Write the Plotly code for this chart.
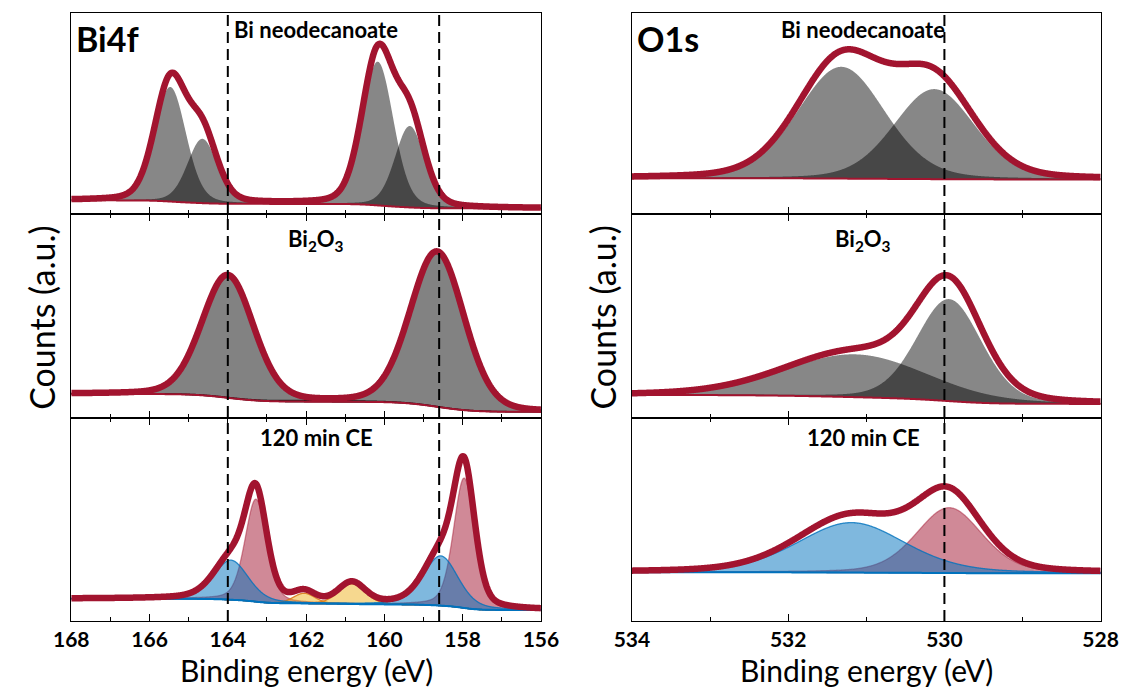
import numpy as np
import plotly.graph_objects as go

# ---------------------------------------------------------------
# Energy windows (eV) and reference positions (dashed lines)
# ---------------------------------------------------------------
BI4F_RANGE = [168, 156]
O1S_RANGE = [534, 528]
BI4F_REF = [164.0, 158.6]
O1S_REF = [530.0]

SAMPLE_LABELS = ["Bi neodecanoate", "Bi<sub>2</sub>O<sub>3</sub>", "120 min CE"]
CORE_LEVELS = ["Bi4f", "O1s"]

# ---------------------------------------------------------------
# Fitted components: centre (eV), height (a.u.), FWHM (eV),
# Lorentzian fraction, component family
# Background: Shirley end points [high-BE end, low-BE end]
# Envelope gain: measured spectrum relative to summed fit
# ---------------------------------------------------------------
# Bi4f - Bi neodecanoate
bi4f_neo_center = [165.47, 164.65, 160.17, 159.35]
bi4f_neo_height = [0.570, 0.320, 0.715, 0.405]
bi4f_neo_fwhm = [0.95, 0.90, 0.95, 0.90]
bi4f_neo_lor = [0.2, 0.2, 0.2, 0.2]
bi4f_neo_kind = ["gray", "gray", "gray", "gray"]
bi4f_neo_bg = [0.068, 0.028]
bi4f_neo_gain = 1.04

# Bi4f - Bi2O3
bi4f_ox_center = [164.00, 158.65]
bi4f_ox_height = [0.600, 0.760]
bi4f_ox_fwhm = [1.55, 1.62]
bi4f_ox_lor = [0.15, 0.15]
bi4f_ox_kind = ["gray_edge", "gray_edge"]
bi4f_ox_bg = [0.118, 0.030]
bi4f_ox_gain = 1.0

# Bi4f - 120 min CE
bi4f_ce_center = [163.28, 157.96, 162.05, 160.83, 163.92, 158.56]
bi4f_ce_height = [0.505, 0.640, 0.050, 0.100, 0.195, 0.245]
bi4f_ce_fwhm = [0.66, 0.64, 0.65, 0.80, 1.05, 1.05]
bi4f_ce_lor = [0.3, 0.3, 0.2, 0.2, 0.35, 0.35]
bi4f_ce_kind = ["pink", "pink", "yellow", "yellow", "blue", "blue"]
bi4f_ce_bg = [0.110, 0.054]
bi4f_ce_gain = 1.0

# O1s - Bi neodecanoate
o1s_neo_center = [531.32, 530.13]
o1s_neo_height = [0.556, 0.448]
o1s_neo_fwhm = [1.32, 1.22]
o1s_neo_lor = [0.2, 0.2]
o1s_neo_kind = ["gray", "gray"]
o1s_neo_bg = [0.178, 0.172]
o1s_neo_gain = 1.06

# O1s - Bi2O3
o1s_ox_center = [531.14, 529.94]
o1s_ox_height = [0.210, 0.500]
o1s_ox_fwhm = [2.16, 0.98]
o1s_ox_lor = [0.2, 0.2]
o1s_ox_kind = ["gray", "gray"]
o1s_ox_bg = [0.113, 0.069]
o1s_ox_gain = 1.04

# O1s - 120 min CE
o1s_ce_center = [529.94, 531.19]
o1s_ce_height = [0.322, 0.246]
o1s_ce_fwhm = [1.00, 1.63]
o1s_ce_lor = [0.3, 0.3]
o1s_ce_kind = ["pink", "blue"]
o1s_ce_bg = [0.240, 0.235]
o1s_ce_gain = 1.12

# ---------------------------------------------------------------
# Styles
# ---------------------------------------------------------------
RED = "rgb(162,20,47)"
FILL = {
    "gray": "rgba(0,0,0,0.47)",
    "gray_edge": "rgba(0,0,0,0.49)",
    "pink": "rgba(162,20,47,0.5)",
    "blue": "rgba(0,114,189,0.5)",
    "yellow": "rgba(237,177,32,0.5)",
}
EDGE = {
    "gray": None,
    "gray_edge": "rgba(20,20,20,0.85)",
    "pink": "rgba(162,20,47,0.45)",
    "blue": "rgba(0,114,189,0.8)",
    "yellow": "rgba(217,120,25,0.9)",
}
DRAW_ORDER = ["gray", "gray_edge", "pink", "yellow", "blue"]
FONT = "Lato"

# Plot frame in paper fractions
X_DOM = [[0.04833, 0.47452], [0.55712, 0.98243]]
Y_DOM = [[0.68940, 0.98113], [0.39332, 0.68940], [0.09869, 0.39332]]


def pseudo_voigt(E, c, h, w, m):
    u = (E - c) / w
    return h * ((1 - m) * np.exp(-4 * np.log(2) * u ** 2) + m / (1 + 4 * u ** 2))


def shirley(E, signal, hi, lo):
    # E runs from high to low binding energy
    tail = np.cumsum(signal[::-1])[::-1]
    return lo + (hi - lo) * tail / tail[0]


panels = [
    # (column, row, energy range, centres, heights, fwhm, lor, kinds, bg, gain, bg colour)
    (0, 0, BI4F_RANGE, bi4f_neo_center, bi4f_neo_height, bi4f_neo_fwhm, bi4f_neo_lor, bi4f_neo_kind, bi4f_neo_bg, bi4f_neo_gain, RED),
    (0, 1, BI4F_RANGE, bi4f_ox_center, bi4f_ox_height, bi4f_ox_fwhm, bi4f_ox_lor, bi4f_ox_kind, bi4f_ox_bg, bi4f_ox_gain, RED),
    (0, 2, BI4F_RANGE, bi4f_ce_center, bi4f_ce_height, bi4f_ce_fwhm, bi4f_ce_lor, bi4f_ce_kind, bi4f_ce_bg, bi4f_ce_gain, "rgb(0,114,189)"),
    (1, 0, O1S_RANGE, o1s_neo_center, o1s_neo_height, o1s_neo_fwhm, o1s_neo_lor, o1s_neo_kind, o1s_neo_bg, o1s_neo_gain, RED),
    (1, 1, O1S_RANGE, o1s_ox_center, o1s_ox_height, o1s_ox_fwhm, o1s_ox_lor, o1s_ox_kind, o1s_ox_bg, o1s_ox_gain, RED),
    (1, 2, O1S_RANGE, o1s_ce_center, o1s_ce_height, o1s_ce_fwhm, o1s_ce_lor, o1s_ce_kind, o1s_ce_bg, o1s_ce_gain, "rgb(0,114,189)"),
]

fig = go.Figure()
layout_axes = {}

for idx, (col, row, rng, cen, hgt, fw, lor, kinds, bgp, gain, bgcol) in enumerate(panels):
    n = idx + 1
    xa = "x" if n == 1 else f"x{n}"
    ya = "y" if n == 1 else f"y{n}"
    E = np.linspace(rng[0], rng[1], 1501)
    comps = [pseudo_voigt(E, c, h, w, m) for c, h, w, m in zip(cen, hgt, fw, lor)]
    total = np.sum(comps, axis=0)
    bg = shirley(E, total, bgp[0], bgp[1])
    envelope = bg + gain * total

    order = sorted(range(len(comps)), key=lambda i: DRAW_ORDER.index(kinds[i]))
    for i in order:
        k = kinds[i]
        edge = EDGE[k]
        fig.add_trace(go.Scatter(
            x=np.concatenate([E, E[::-1]]),
            y=np.concatenate([bg + comps[i], bg[::-1]]),
            fill="toself", fillcolor=FILL[k], mode="lines",
            line=dict(color=edge if edge else "rgba(0,0,0,0)", width=1.3 if edge else 0, simplify=False),
            xaxis=xa, yaxis=ya, hoverinfo="skip", showlegend=False,
        ))
    fig.add_trace(go.Scatter(x=E, y=bg, mode="lines", line=dict(color=bgcol, width=2, simplify=False),
                             xaxis=xa, yaxis=ya, hoverinfo="skip", showlegend=False))
    fig.add_trace(go.Scatter(x=E, y=envelope, mode="lines",
                             line=dict(color=RED, width=6.5, simplify=False),
                             xaxis=xa, yaxis=ya, showlegend=False))

    bottom = row == 2
    layout_axes["xaxis" if n == 1 else f"xaxis{n}"] = dict(
        domain=X_DOM[col], range=rng, anchor=ya,
        showline=True, linecolor="black", linewidth=1.2,
        mirror=True if row == 0 else "allticks",
        ticks="inside", ticklen=7, tickwidth=1.4, tickcolor="black",
        tick0=rng[1], dtick=2,
        minor=dict(dtick=1, ticks="inside", ticklen=4, tickwidth=1.2, tickcolor="black", showgrid=False),
        showticklabels=bottom,
        tickfont=dict(family=FONT, size=21, color="black", weight="bold"),
        showgrid=False, zeroline=False,
    )
    layout_axes["yaxis" if n == 1 else f"yaxis{n}"] = dict(
        domain=Y_DOM[row], range=[0, 1], anchor=xa,
        showline=True, linecolor="black", linewidth=1.2, mirror=True,
        ticks="", showticklabels=False, showgrid=False, zeroline=False,
    )

# Dashed reference lines through each column
shapes = []
for col, refs in enumerate([BI4F_REF, O1S_REF]):
    xref = "x" if col == 0 else "x4"
    for e in refs:
        shapes.append(dict(type="line", xref=xref, yref="paper", x0=e, x1=e,
                           y0=Y_DOM[2][0], y1=Y_DOM[0][1],
                           line=dict(color="black", width=2, dash="11px,6px"), layer="above"))

annotations = []
label_x = [0.2707, 0.7670]
label_y = [0.9579, 0.6520, 0.3643]
for col in range(2):
    for row in range(3):
        annotations.append(dict(text=SAMPLE_LABELS[row], x=label_x[col], y=label_y[row],
                                xref="paper", yref="paper", showarrow=False,
                                xanchor="center", yanchor="middle",
                                font=dict(family=FONT, size=22, color="black", weight="bold")))
    annotations.append(dict(text=CORE_LEVELS[col], x=[0.0510, 0.5597][col], y=0.9448,
                            xref="paper", yref="paper", showarrow=False,
                            xanchor="left", yanchor="middle",
                            font=dict(family=FONT, size=34, color="black", weight="bold")))
    annotations.append(dict(text="Binding energy (eV)", x=(X_DOM[col][0] + X_DOM[col][1]) / 2,
                            y=0.0, xref="paper", yref="paper", showarrow=False,
                            xanchor="center", yanchor="bottom", borderpad=0,
                            font=dict(family=FONT, size=30, color="black")))
    annotations.append(dict(text="Counts (a.u.)", x=[24 / 1138, 604 / 1138][col], y=0.539,
                            xref="paper", yref="paper", showarrow=False, textangle=-90,
                            xanchor="center", yanchor="middle",
                            font=dict(family=FONT, size=34, color="black")))

fig.update_layout(
    width=1138, height=689,
    margin=dict(l=0, r=0, t=0, b=0),
    paper_bgcolor="white", plot_bgcolor="white",
    showlegend=False,
    shapes=shapes, annotations=annotations,
    **layout_axes,
)

fig.write_html("out.html")
